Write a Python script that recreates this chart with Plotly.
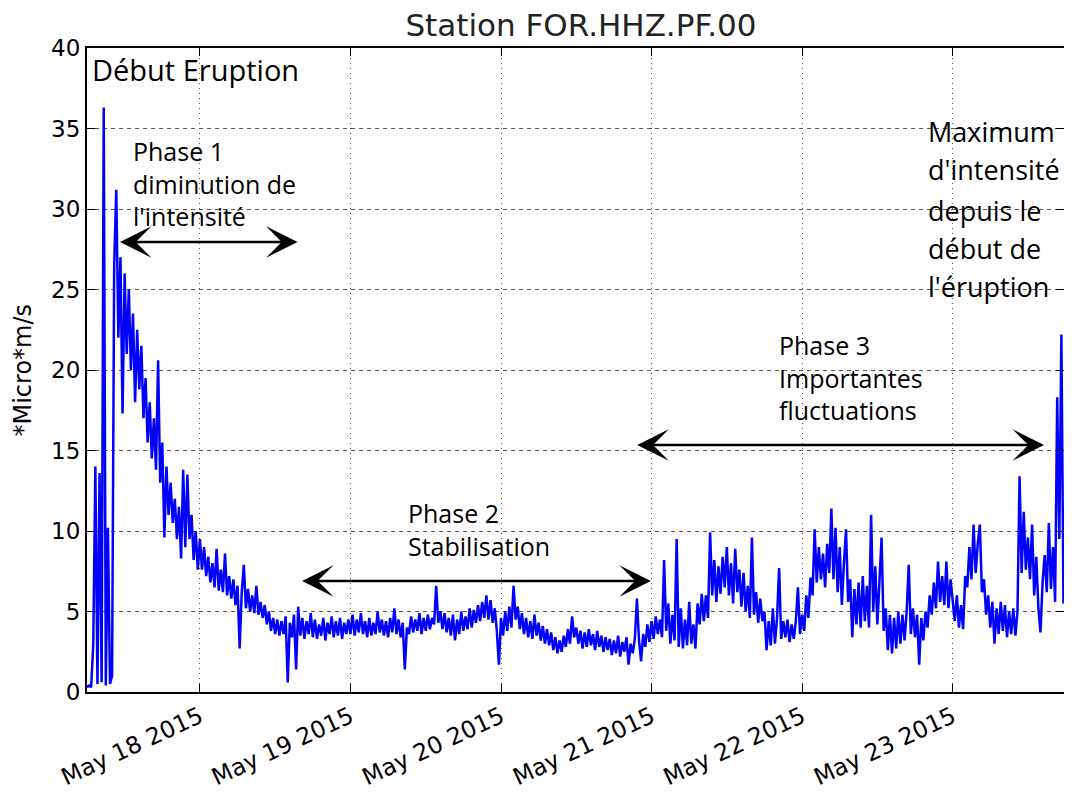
import pandas as pd
import plotly.graph_objects as go

# ---- data (20-minute samples) ----
start_time = "2015-05-17 06:00"
sample_step = "20min"

may17 = [0.3, 0.4, 0.3, 3.0, 14.0, 0.5, 13.6, 0.6, 36.3, 0.4,
         10.2, 0.5, 1.0, 26.5, 31.2, 22.0, 27.0, 17.3, 26.0, 21.0,
         25.0, 20.0, 23.5, 18.0, 22.5, 18.8, 21.5, 17.0, 19.5, 15.5,
         18.0, 14.5, 17.0, 13.8, 20.6, 13.0, 15.5, 9.6, 14.0, 11.0,
         13.0, 10.5, 12.0, 9.5, 11.5, 8.3, 13.8, 9.0, 13.5, 9.5,
         11.0, 8.2, 10.0, 7.6]
may18 = [9.5, 7.6, 9.0, 7.2, 8.4, 6.8, 8.0, 6.5, 8.9, 6.3,
         7.6, 6.2, 8.6, 6.0, 7.2, 5.8, 7.0, 5.4, 6.6, 2.7,
         6.2, 7.9, 5.2, 6.4, 5.0, 6.0, 4.9, 6.6, 4.8, 5.6,
         4.6, 5.4, 4.2, 5.0, 3.8, 4.6, 3.6, 4.5, 3.5, 4.4,
         3.6, 4.7, 0.6, 4.3, 3.4, 4.8, 1.4, 5.3, 3.5, 4.6,
         3.3, 4.4, 3.6, 4.9, 3.4, 4.5, 3.3, 4.2, 3.5, 4.6,
         3.2, 4.3, 3.6, 4.7, 3.4, 4.4, 3.5, 4.6, 3.3, 4.3,
         3.6, 4.5]
may19 = [3.6, 4.8, 3.5, 4.5, 3.7, 4.9, 3.6, 4.4, 3.4, 4.6,
         3.5, 4.3, 3.6, 5.0, 3.7, 4.5, 3.5, 4.4, 3.4, 4.6,
         3.7, 5.2, 3.6, 4.5, 3.4, 4.3, 1.4, 4.0, 3.6, 4.7,
         3.7, 4.5, 3.8, 4.9, 3.6, 4.6, 3.8, 4.8, 3.9, 4.6,
         4.2, 6.6, 4.3, 5.0, 3.9, 4.9, 3.7, 4.6, 3.5, 4.8,
         3.2, 4.5, 3.6, 5.0, 3.8, 4.7, 3.9, 5.2, 4.0, 5.1,
         4.3, 5.4, 4.4, 5.6, 4.6, 6.0, 4.5, 5.7, 4.3, 5.2,
         3.8, 1.7]
may20 = [4.6, 3.5, 5.0, 3.8, 5.3, 4.0, 6.6, 4.5, 5.3, 3.9,
         4.9, 3.6, 4.6, 3.4, 4.4, 3.3, 4.8, 3.5, 4.3, 3.2,
         4.1, 3.0, 3.9, 2.9, 3.7, 2.6, 3.4, 2.4, 3.2, 2.5,
         3.5, 2.8, 3.9, 3.0, 4.7, 3.4, 4.0, 3.0, 3.8, 2.7,
         3.7, 2.8, 3.9, 2.9, 3.6, 2.6, 3.8, 2.8, 3.5, 2.5,
         3.4, 2.6, 3.3, 2.3, 3.2, 2.4, 3.5, 2.2, 3.1, 2.5,
         3.4, 1.7, 3.0, 2.4, 3.3, 5.8, 3.2, 1.9, 3.6, 2.8,
         4.2, 3.1]
may21 = [4.4, 3.3, 4.7, 3.6, 4.5, 3.4, 8.2, 3.8, 5.5, 3.0,
         4.8, 3.2, 9.5, 2.8, 5.2, 2.7, 4.5, 2.9, 5.6, 3.0,
         4.2, 2.7, 5.5, 4.2, 6.1, 4.4, 6.0, 4.6, 9.9, 6.0,
         8.2, 5.6, 7.8, 6.1, 8.4, 6.5, 9.0, 6.0, 8.0, 5.5,
         8.9, 6.2, 7.6, 5.3, 7.4, 5.0, 6.6, 4.6, 9.6, 4.8,
         6.2, 4.3, 5.8, 4.4, 5.0, 2.6, 4.4, 2.9, 5.2, 3.0,
         4.6, 7.7, 3.3, 4.4, 3.4, 4.5, 3.1, 4.2, 3.3, 4.4,
         6.5, 3.6]
may22 = [4.8, 3.8, 6.0, 4.6, 7.1, 6.0, 10.1, 6.8, 9.0, 7.0,
         8.6, 6.5, 9.2, 7.4, 11.4, 7.0, 10.2, 6.2, 9.0, 5.4,
         8.0, 10.1, 5.6, 7.0, 3.4, 6.4, 4.2, 6.8, 4.0, 7.2,
         4.4, 6.6, 4.0, 11.0, 5.0, 7.8, 4.2, 7.0, 9.6, 3.8,
         5.2, 2.6, 4.8, 2.4, 4.6, 2.7, 5.0, 3.0, 4.8, 3.2,
         5.0, 7.9, 3.6, 5.2, 3.4, 4.8, 1.7, 4.6, 3.2, 5.0,
         4.0, 6.0, 4.8, 6.8, 5.2, 8.1, 5.6, 7.2, 5.4, 8.1,
         5.2, 7.0]
may23 = [5.6, 4.4, 6.0, 4.0, 5.4, 3.9, 7.2, 6.5, 9.0, 7.0,
         10.4, 7.4, 9.2, 10.4, 6.2, 7.0, 4.8, 6.0, 4.0, 5.6,
         3.0, 5.2, 3.6, 5.6, 3.8, 5.4, 3.4, 5.0, 3.6, 5.2,
         3.5, 5.0, 13.4, 7.4, 11.2, 7.6, 9.6, 7.0, 10.4, 6.0,
         8.4, 5.2, 3.7, 6.8, 8.5, 6.2, 10.5, 6.4, 9.0, 5.6,
         18.3, 9.5, 22.2, 5.5]

values = may17 + may18 + may19 + may20 + may21 + may22 + may23
times = pd.date_range(start=start_time, periods=len(values), freq=sample_step)

tick_dates = ["2015-05-18", "2015-05-19", "2015-05-20",
              "2015-05-21", "2015-05-22", "2015-05-23"]
tick_labels = ["May 18 2015", "May 19 2015", "May 20 2015",
               "May 21 2015", "May 22 2015", "May 23 2015"]
y_ticks = [0, 5, 10, 15, 20, 25, 30, 35, 40]

x_range = ["2015-05-17 06:00", "2015-05-23 17:45"]
y_range = [0, 40]

# arrows: (start, end, level)
arrows = [
    ("2015-05-17 11:01", "2015-05-18 15:34", 27.95),
    ("2015-05-18 16:03", "2015-05-20 23:53", 6.9),
    ("2015-05-20 21:29", "2015-05-23 14:34", 15.34),
]

texts = [
    ("Début Eruption", 0.0026, 0.966, 29),
    ("Phase 1<br>diminution de<br>l'intensité", 0.0446, 0.789, 25),
    ("Phase 2<br>Stabilisation", 0.3263, 0.2523, 25),
    ("Phase 3<br>Importantes<br>fluctuations", 0.7061, 0.4876, 25),
    ("Maximum", 0.8587, 0.8711, 27),
    ("d'intensité", 0.8587, 0.8121, 27),
    ("depuis le", 0.8587, 0.7469, 27),
    ("début de", 0.8587, 0.6879, 27),
    ("l'éruption", 0.8587, 0.6304, 27),
]

# page body has an 8px default margin: figure sized to fit the visible window
W, H = 1056, 794

fig = go.Figure()
fig.add_trace(go.Scatter(x=times, y=values, mode="lines",
                         line=dict(color="#0000ff", width=2.5),
                         showlegend=False, hoverinfo="skip"))

for a_start, a_end, lvl in arrows:
    fig.add_annotation(x=a_end, y=lvl, ax=a_start, ay=lvl,
                       xref="x", yref="y", axref="x", ayref="y",
                       text="", showarrow=True, arrowside="end+start",
                       arrowhead=3, arrowsize=2.1, arrowwidth=2.5,
                       arrowcolor="black")

for txt, px, py, fs in texts:
    fig.add_annotation(x=px, y=py, xref="paper", yref="paper",
                       text=txt, showarrow=False, align="left",
                       xanchor="left", yanchor="middle",
                       font=dict(family="Open Sans", size=fs, color="black"))

fig.add_annotation(x=-0.066, y=0.5, xref="paper", yref="paper",
                   text="*Micro*m/s", showarrow=False, textangle=-90,
                   xanchor="center", yanchor="middle",
                   font=dict(family="DejaVu Sans", size=24, color="black"))

fig.update_layout(
    width=W, height=H,
    margin=dict(l=78.5, r=0, t=40, b=110),
    paper_bgcolor="white", plot_bgcolor="white",
    title=dict(text="Station FOR.HHZ.PF.00", x=573 / W, xref="container",
               y=1 - 17 / H, yref="container", xanchor="center",
               yanchor="middle",
               font=dict(family="DejaVu Sans", size=31, color="#222")),
    font=dict(family="DejaVu Sans", color="black"),
)

fig.update_xaxes(range=x_range, tickvals=tick_dates, ticktext=tick_labels,
                 tickangle=-25, tickfont=dict(family="DejaVu Sans", size=23.5),
                 showline=True, linecolor="black", linewidth=2,
                 mirror="allticks", ticks="inside", ticklen=8,
                 tickcolor="black", tickwidth=1,
                 showgrid=True, gridcolor="#555", gridwidth=1,
                 griddash="1px,4px", zeroline=False, automargin=False)
fig.update_yaxes(range=y_range, tickvals=y_ticks,
                 tickfont=dict(family="DejaVu Sans", size=23),
                 showline=True, linecolor="black", linewidth=2,
                 mirror="allticks", ticks="inside", ticklen=8,
                 tickcolor="black", tickwidth=1,
                 showgrid=True, gridcolor="#555", gridwidth=1,
                 griddash="4px,4px", zeroline=False, automargin=False)

fig.write_html("out.html", config={"displayModeBar": False})
